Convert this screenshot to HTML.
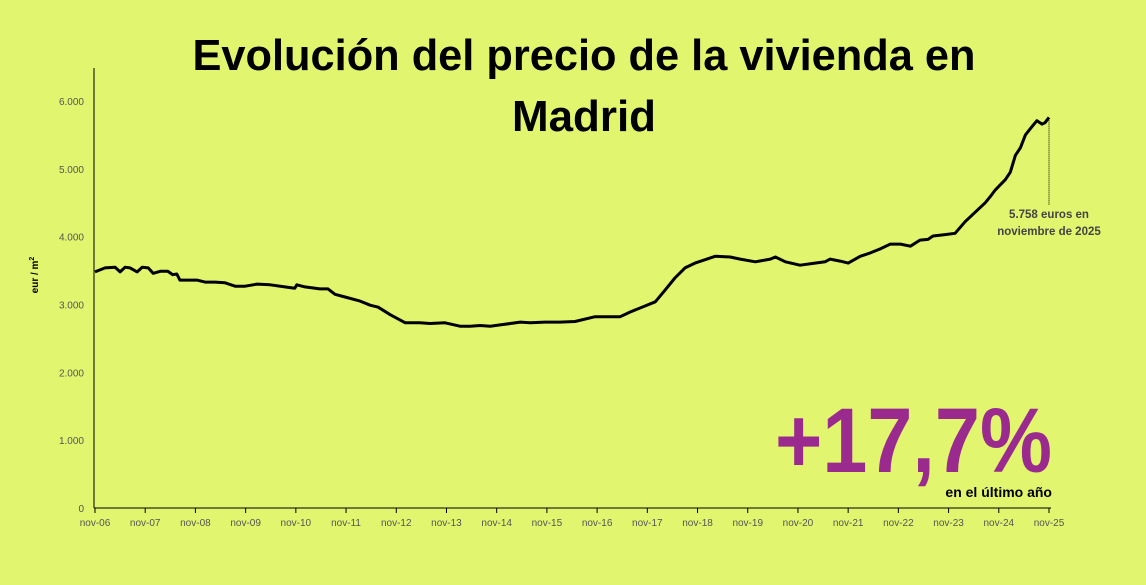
<!DOCTYPE html>
<html><head><meta charset="utf-8"><style>
html,body{margin:0;padding:0;background:#e1f56f;}
svg{display:block;font-family:"Liberation Sans",sans-serif;}
</style></head><body>
<svg id="chart" width="1146" height="585" viewBox="0 0 1146 585">
<rect width="1146" height="585" fill="#e1f56f"/>
<text x="584" y="70" text-anchor="middle" font-size="44" font-weight="bold" fill="#000" textLength="783" lengthAdjust="spacingAndGlyphs">Evolución del precio de la vivienda en</text>
<text x="584" y="131" text-anchor="middle" font-size="44" font-weight="bold" fill="#000" textLength="144" lengthAdjust="spacingAndGlyphs">Madrid</text>
<g id="yaxis"></g>
<g id="xaxis"></g>
<text transform="translate(38,275) rotate(-90)" text-anchor="middle" font-size="10" font-weight="bold" fill="#000">eur / m<tspan dy="-4" font-size="7">2</tspan></text>
<path id="line" fill="none" stroke="#000" stroke-width="3" stroke-linejoin="round"/>
<line id="dots" stroke="#000" stroke-width="1" stroke-dasharray="1,1"/>
<text x="1049" y="218" text-anchor="middle" font-size="11.5" font-weight="bold" fill="#444">5.758 euros en</text>
<text x="1049" y="235" text-anchor="middle" font-size="11.5" font-weight="bold" fill="#444">noviembre de 2025</text>
<text x="1052" y="472" text-anchor="end" font-size="92" font-weight="bold" fill="#9b2a8f" textLength="277" lengthAdjust="spacingAndGlyphs">+17,7%</text>
<text x="1052" y="497" text-anchor="end" font-size="14" font-weight="bold" fill="#000">en el último año</text>
</svg>
<script>
const yTicks=[0,1000,2000,3000,4000,5000,6000];
const yTickLabels=["0","1.000","2.000","3.000","4.000","5.000","6.000"];
const xTickLabels=["nov-06","nov-07","nov-08","nov-09","nov-10","nov-11","nov-12","nov-13","nov-14","nov-15","nov-16","nov-17","nov-18","nov-19","nov-20","nov-21","nov-22","nov-23","nov-24","nov-25"];
const years=[0,0.2,0.4,0.5,0.6,0.7,0.84,0.94,1.06,1.16,1.3,1.45,1.55,1.63,1.69,2.03,2.19,2.39,2.59,2.79,2.99,3.23,3.49,3.78,3.98,4.02,4.18,4.48,4.64,4.78,4.98,5.28,5.48,5.64,5.88,6.18,6.47,6.67,6.97,7.27,7.47,7.67,7.87,8.07,8.47,8.67,8.96,9.26,9.56,9.96,10.46,10.66,10.96,11.16,11.35,11.55,11.75,11.95,12.15,12.35,12.65,12.85,13.15,13.45,13.55,13.75,14.04,14.34,14.54,14.64,14.84,15.0,15.24,15.44,15.64,15.84,16.04,16.24,16.43,16.59,16.69,16.93,17.13,17.33,17.53,17.73,17.83,17.93,18.13,18.23,18.33,18.43,18.53,18.67,18.76,18.86,18.92,19];
const prices=[3480,3540,3550,3480,3550,3540,3480,3550,3540,3460,3490,3490,3440,3450,3360,3360,3330,3330,3320,3270,3270,3300,3290,3260,3240,3290,3260,3230,3230,3150,3110,3050,2990,2960,2850,2730,2730,2720,2730,2680,2680,2690,2680,2700,2740,2730,2740,2740,2750,2820,2820,2890,2980,3040,3210,3390,3540,3610,3660,3710,3700,3670,3630,3670,3700,3630,3580,3610,3630,3670,3640,3610,3710,3760,3820,3890,3890,3860,3950,3960,4010,4030,4050,4220,4360,4500,4590,4690,4840,4950,5200,5310,5500,5630,5710,5660,5680,5758];
const NS="http://www.w3.org/2000/svg";
const X0=95,X1=1049,Y0=508,Y6=101;
const xs=t=>X0+(X1-X0)*t/19;
const ys=v=>Y0-(Y0-Y6)*v/6000;
const ya=document.getElementById('yaxis'),xa=document.getElementById('xaxis');
function mk(tag,attrs,parent){const e=document.createElementNS(NS,tag);for(const k in attrs)e.setAttribute(k,attrs[k]);parent.appendChild(e);return e;}
const yl=mk('line',{x1:94,x2:94,y1:68,y2:508,stroke:'#000','stroke-width':1},ya);


yTicks.forEach((v,i)=>{
 const t=mk('text',{x:84,y:ys(v)+4,'text-anchor':'end','font-size':10,fill:'#555'},ya);
 t.textContent=yTickLabels[i];
 
 
});
const xl=mk('line',{x1:94,x2:1051,y1:508,y2:508,stroke:'#000','stroke-width':1},xa);


xTickLabels.forEach((s,i)=>{
 const x=xs(i);
 const tk=mk('line',{x1:x,x2:x,y1:508,y2:513,stroke:'#000','stroke-width':1},xa);
 
 
 const t=mk('text',{x:x,y:526,'text-anchor':'middle','font-size':10,fill:'#555'},xa);
 t.textContent=s;
 
 
});
document.getElementById('line').setAttribute('d',years.map((t,i)=>(i?'L':'M')+xs(t).toFixed(1)+','+ys(prices[i]).toFixed(1)).join(''));
const last=years.length-1,d=document.getElementById('dots');
d.setAttribute('x1',xs(years[last]));d.setAttribute('x2',xs(years[last]));
d.setAttribute('y1',ys(prices[last])+3);d.setAttribute('y2',205);
</script>
</body></html>
